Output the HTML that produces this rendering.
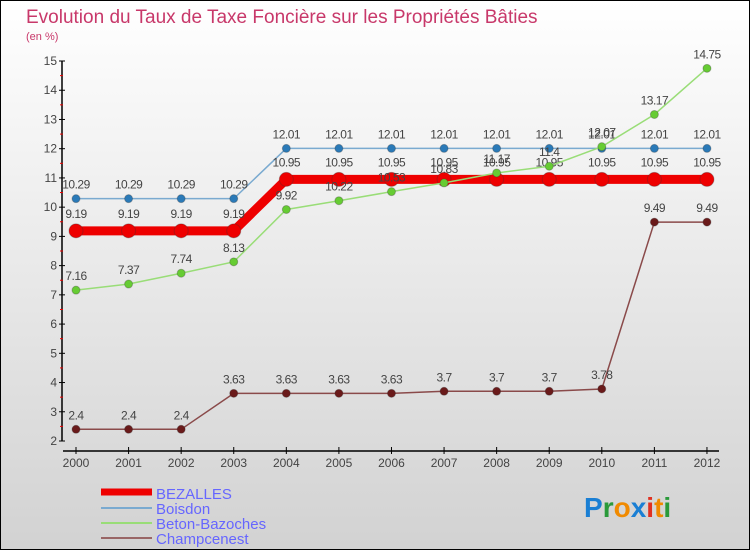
<!DOCTYPE html>
<html><head><meta charset="utf-8"><style>
body{margin:0;}
#wrap{width:748px;height:548px;border:1px solid #000;background:linear-gradient(#fff,#d2d2d2);position:relative;overflow:hidden;font-family:"Liberation Sans",sans-serif;}
</style></head><body>
<div id="wrap">
<svg id="chart" width="748" height="548" xmlns="http://www.w3.org/2000/svg">
<text x="25" y="22" font-size="19" fill="#c8386a">Evolution du Taux de Taxe Foncière sur les Propriétés Bâties</text>
<text x="25" y="39" font-size="11" fill="#c8386a">(en %)</text>
<g id="axes"></g><g id="series"></g>
<g>
<line x1="100" y1="491" x2="151" y2="491" stroke="#e00" stroke-width="7"/>
<text x="155" y="498" font-size="15" fill="#6666ff">BEZALLES</text>
<line x1="100" y1="507" x2="151" y2="507" stroke="#7aaad0" stroke-width="2"/>
<text x="155" y="513" font-size="15" fill="#6666ff">Boisdon</text>
<line x1="100" y1="522" x2="151" y2="522" stroke="#99dd77" stroke-width="2"/>
<text x="155" y="528" font-size="15" fill="#6666ff">Beton-Bazoches</text>
<line x1="100" y1="537" x2="151" y2="537" stroke="#996666" stroke-width="2"/>
<text x="155" y="543" font-size="15" fill="#6666ff">Champcenest</text>
</g>
<text x="583" y="516" font-size="28" font-weight="bold"><tspan fill="#1a7fd4">P</tspan><tspan fill="#2a9a3a">r</tspan><tspan fill="#f08a00">o</tspan><tspan fill="#1a7fd4">x</tspan><tspan fill="#e03020">i</tspan><tspan fill="#f08a00">t</tspan><tspan fill="#2a9a3a">i</tspan></text>
</svg>
</div>
<script>
const years=["2000","2001","2002","2003","2004","2005","2006","2007","2008","2009","2010","2011","2012"];
const yTicks=[2,3,4,5,6,7,8,9,10,11,12,13,14,15];
const bezalles=[9.19,9.19,9.19,9.19,10.95,10.95,10.95,10.95,10.95,10.95,10.95,10.95,10.95];
const boisdon=[10.29,10.29,10.29,10.29,12.01,12.01,12.01,12.01,12.01,12.01,12.01,12.01,12.01];
const betonBazoches=[7.16,7.37,7.74,8.13,9.92,10.22,10.53,10.83,11.17,11.4,12.07,13.17,14.75];
const champcenest=[2.4,2.4,2.4,3.63,3.63,3.63,3.63,3.7,3.7,3.7,3.78,9.49,9.49];
const NS="http://www.w3.org/2000/svg";
function xs(i){return 75+i*52.58;}
function ys(v){return 440-(v-2)*29.23;}
function mk(t,a,p){const e=document.createElementNS(NS,t);for(const k in a)e.setAttribute(k,a[k]);if(p)p.appendChild(e);return e;}
const axes=document.getElementById('axes'),ser=document.getElementById('series');
let yl=mk('line',{x1:61,y1:ys(15),x2:61,y2:ys(2),stroke:'#000','stroke-width':1.5},axes);


yTicks.forEach(v=>{
 mk('line',{x1:58,y1:ys(v),x2:64,y2:ys(v),stroke:'#000'},axes);
 if(v<15){mk('line',{x1:59,y1:ys(v+0.5),x2:62,y2:ys(v+0.5),stroke:'#e00'},axes);}
 const t=mk('text',{x:56,y:ys(v)+4,'font-size':12,fill:'#444','text-anchor':'end'},axes);t.textContent=v;
 
 
});
let xl=mk('line',{x1:62,y1:450,x2:718,y2:450,stroke:'#000','stroke-width':1.5},axes);


years.forEach((y,i)=>{
 mk('line',{x1:xs(i),y1:446,x2:xs(i),y2:453,stroke:'#000'},axes);
 const t=mk('text',{x:xs(i),y:466,'font-size':12,fill:'#444','text-anchor':'middle'},axes);t.textContent=y;
 
 
});
function draw(data,name,color,w,r,dot,labOff){
 const g=mk('g',{},ser);
 
 
 const p=mk('polyline',{points:data.map((v,i)=>xs(i)+','+ys(v)).join(' '),fill:'none',stroke:color,'stroke-width':w},g);
 
 
 data.forEach((v,i)=>{
  const c=mk('circle',{cx:xs(i),cy:ys(v),r:r,fill:dot,stroke:'#333','stroke-opacity':0.3},g);
  
  
  const t=mk('text',{x:xs(i),y:ys(v)-labOff,'font-size':12,fill:'#444','text-anchor':'middle','letter-spacing':'-0.5'},g);
  t.textContent=String(v);
  
  
 });
}
draw(champcenest,'champcenest','#8a4a4a',1.5,4,'#6a1a1a',10);
draw(boisdon,'boisdon','#7aaad0',1.5,4,'#2a7ab8',10);
draw(bezalles,'bezalles','#e00',9,7,'#e00',13);
draw(betonBazoches,'beton-bazoches','#99dd77',1.5,4,'#66cc33',10);
</script>
</body></html>
